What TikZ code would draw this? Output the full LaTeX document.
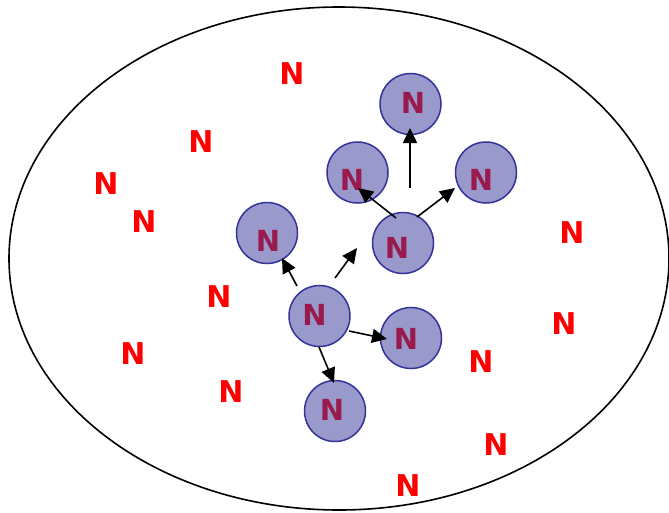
\documentclass[tikz,border=0pt]{standalone}
\usepackage{fontspec}
\newfontfamily\nfont{DejaVu Sans}
\usetikzlibrary{arrows.meta}
\definecolor{discfill}{RGB}{153,153,204}
\definecolor{discedge}{RGB}{51,51,153}
\definecolor{disctext}{RGB}{153,26,77}
\begin{document}
\begin{tikzpicture}[x=1pt,y=-1pt,
  disc/.style={circle,draw=discedge,fill=discfill,line width=1.5pt,minimum size=61pt,inner sep=0pt},
  disclabel/.style={text=disctext,font=\nfont\bfseries\fontsize{29}{34}\selectfont,inner sep=0pt},
  freeN/.style={text=red,font=\nfont\bfseries\fontsize{30}{36}\selectfont,inner sep=0pt},
  link/.style={line width=1.6pt,-{Triangle[length=15pt,width=14pt]}}]
\useasboundingbox (0,0) rectangle (669,512);
% outer boundary
\draw[line width=1.6pt] (339,258.5) ellipse [x radius=330, y radius=251.5];

% scattered free N's
\node[freeN] (f1)  at (292,74)  {N};
\node[freeN] (f2)  at (201,142) {N};
\node[freeN] (f3)  at (106,184) {N};
\node[freeN] (f4)  at (144,222) {N};
\node[freeN] (f5)  at (219,297) {N};
\node[freeN] (f6)  at (572,233) {N};
\node[freeN] (f7)  at (133,354) {N};
\node[freeN] (f8)  at (564,324) {N};
\node[freeN] (f9)  at (231,392) {N};
\node[freeN] (f10) at (481,362) {N};
\node[freeN] (f11) at (496,445) {N};
\node[freeN] (f12) at (408,486) {N};

% discs
\node[disc] (top)  at (410.5,104) {};
\node[disc] (ul)   at (357.5,172.5) {};
\node[disc] (ur)   at (486,172.5) {};
\node[disc] (mid)  at (403,243) {};
\node[disc] (left) at (267,233) {};
\node[disc] (ctr)  at (319.5,316) {};
\node[disc] (rl)   at (411,338) {};
\node[disc] (bot)  at (335,411) {};

% labels inside the discs
\node[disclabel] (ltop)  at (413,103) {N};
\node[disclabel] (lul)   at (352,180) {N};
\node[disclabel] (lur)   at (481,180) {N};
\node[disclabel] (lmid)  at (397,248) {N};
\node[disclabel] (lleft) at (268,241) {N};
\node[disclabel] (lctr)  at (314.5,315) {N};
\node[disclabel] (lrl)   at (406,339) {N};
\node[disclabel] (lbot)  at (332,410) {N};

% arrow end points
\coordinate (a1s) at (410,188); \coordinate (a1e) at (410,128);
\coordinate (a2s) at (396,218); \coordinate (a2e) at (358,188);
\coordinate (a3s) at (417,217); \coordinate (a3e) at (455,188);
\coordinate (b1s) at (297,286); \coordinate (b1e) at (282,258);
\coordinate (b2s) at (335,278); \coordinate (b2e) at (357,248);
\coordinate (b3s) at (349,331); \coordinate (b3e) at (387,339);
\coordinate (b4s) at (319,347); \coordinate (b4e) at (334,383);

\draw[link] (a1s) -- (a1e);
\draw[link] (a2s) -- (a2e);
\draw[link] (a3s) -- (a3e);
\draw[link] (b1s) -- (b1e);
\draw[link] (b2s) -- (b2e);
\draw[link] (b3s) -- (b3e);
\draw[link] (b4s) -- (b4e);
\end{tikzpicture}
\end{document}
